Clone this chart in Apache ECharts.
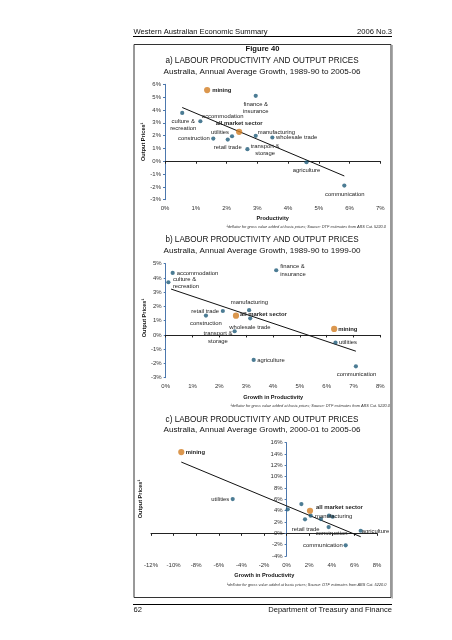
<!DOCTYPE html>
<html>
<head>
<meta charset="utf-8">
<script src="https://cdn.jsdelivr.net/npm/echarts@6/dist/echarts.min.js"></script>
<style>
html,body{margin:0;padding:0;background:#fff;}
#chart{width:452px;height:640px;}
</style>
</head>
<body>
<div id="chart"></div>
<script>
// ---------------- DATA ----------------
const sectors = ['agriculture','mining','manufacturing','utilities','construction','wholesale trade','retail trade','accommodation','transport &\nstorage','communication','finance &\ninsurance','culture &\nrecreation','all market sector'];

// a) 1989-90 to 2005-06
const prodA  = [4.60, 1.37, 2.95, 2.18, 1.57, 3.49, 2.04, 1.15, 2.68, 5.83, 2.95, 0.56, 2.41];
const priceA = [-0.08, 5.55, 1.98, 1.95, 1.77, 1.85, 1.69, 3.12, 0.94, -1.90, 5.10, 3.77, 2.29];
const trendA = [[0.56, 4.19], [5.83, -1.15]];

// b) 1989-90 to 1999-00
const prodB  = [3.28, 6.28, 3.11, 6.33, 1.50, 3.15, 2.13, 0.26, 2.57, 7.09, 4.12, 0.10, 2.62];
const priceB = [-1.75, 0.42, 1.74, -0.53, 1.36, 1.17, 1.68, 4.35, 0.26, -2.20, 4.54, 3.70, 1.35];
const trendB = [[0.20, 3.22], [7.09, -1.14]];

// c) 2000-01 to 2005-06
const prodC  = [6.56, -9.32, 2.13, -4.77, 3.72, 3.04, 1.63, 0.10, 3.75, 5.23, 1.31, 4.08, 2.07];
const priceC = [0.46, 14.35, 3.11, 6.05, 1.11, 2.52, 2.47, 4.24, 3.11, -2.12, 5.17, 2.93, 3.99];
const trendC = [[-9.32, 12.58], [6.56, -0.60]];

const highlighted = ['mining', 'all market sector'];

const titlesA = ['a) LABOUR PRODUCTIVITY AND OUTPUT PRICES', 'Australia, Annual Average Growth, 1989-90 to 2005-06'];
const titlesB = ['b) LABOUR PRODUCTIVITY AND OUTPUT PRICES', 'Australia, Annual Average Growth, 1989-90 to 1999-00'];
const titlesC = ['c) LABOUR PRODUCTIVITY AND OUTPUT PRICES', 'Australia, Annual Average Growth, 2000-01 to 2005-06'];
const xNames = ['Productivity', 'Growth in Productivity', 'Growth in Productivity'];
const yName = 'Output Prices\u00B9';
const footnote = '\u00B9deflator for gross value added at basic prices; Source: DTF estimates from ABS Cat. 5220.0';

// ---------------- STYLE (label placement) ----------------
// [dx, dy, align]
const labA = {
  'mining': [5, 0, 'left'],
  'culture &\nrecreation': [1, 12, 'center'],
  'accommodation': [1.5, -5, 'left'],
  'all market sector': [0, -8, 'center'],
  'utilities': [-3, -4, 'right'],
  'construction': [-3.5, 0.3, 'right'],
  'retail trade': [0, 8, 'center'],
  'finance &\ninsurance': [0, 12, 'center'],
  'manufacturing': [2, -3.7, 'left'],
  'wholesale trade': [3.7, 0, 'left'],
  'transport &\nstorage': [17.7, 0.5, 'center'],
  'agriculture': [0, 8, 'center'],
  'communication': [0.5, 8.4, 'center']
};
const labB = {
  'accommodation': [4, 0.3, 'left'],
  'culture &\nrecreation': [4.5, 0.5, 'left'],
  'retail trade': [-3.7, 0, 'right'],
  'construction': [0, 7.7, 'center'],
  'transport &\nstorage': [-16.7, 6, 'center'],
  'manufacturing': [0.3, -7.3, 'center'],
  'all market sector': [4, -1, 'left'],
  'wholesale trade': [-0.2, 8.7, 'center'],
  'finance &\ninsurance': [4, 0, 'left'],
  'mining': [4, 0.6, 'left'],
  'utilities': [3.4, 0, 'left'],
  'agriculture': [3.6, 0.6, 'left'],
  'communication': [0.6, 8.3, 'center']
};
const labC = {
  'mining': [4.4, 0, 'left'],
  'utilities': [-3.4, 0, 'right'],
  'all market sector': [6, -3, 'left'],
  'manufacturing': [4.3, 0.3, 'left'],
  'retail trade': [0.7, 9.7, 'center'],
  'construction': [3, 6.7, 'center'],
  'agriculture': [1, 0.3, 'left'],
  'communication': [-3, 0.4, 'right']
};

const FONT = '"Liberation Sans", Arial, sans-serif';
const BLUE = '#1f5b79';
const ORANGE = '#d27d22';
const AXISBLUE = '#4d78ad';

function points(xs, ys, orange) {
  const out = [];
  sectors.forEach((n, i) => {
    const isO = highlighted.indexOf(n) >= 0;
    if (isO !== orange) return;
    out.push({ name: n, value: [xs[i], ys[i]] });
  });
  return out;
}

function xAxes(gi, min, max, interval, labelMargin) {
  return [
    { gridIndex: gi, type: 'value', position: 'bottom', min, max, interval,
      axisLine: { show: false, onZero: false }, axisTick: { show: false }, splitLine: { show: false },
      axisLabel: { formatter: '{value}%', fontSize: 6, fontFamily: FONT, color: '#333', margin: labelMargin } },
    { gridIndex: gi, type: 'value', position: 'bottom', min, max, interval,
      axisLine: { show: true, onZero: true, lineStyle: { color: '#222', width: 1 } },
      axisTick: { show: true, length: 2.5, lineStyle: { color: '#222' } },
      axisLabel: { show: false }, splitLine: { show: false } }
  ];
}
function yAxis(gi, min, max, interval, offset) {
  return { gridIndex: gi, type: 'value', position: 'left', min, max, interval, offset: offset || 0,
    axisLine: { show: true, onZero: false, lineStyle: { color: AXISBLUE, width: 1 } },
    axisTick: { show: true, length: 2, lineStyle: { color: AXISBLUE } },
    splitLine: { show: false },
    axisLabel: { formatter: '{value}%', fontSize: 6, fontFamily: FONT, color: '#333', margin: 4 } };
}

function seriesFor(gi, xs, ys, labs, trend) {
  const xi = gi * 2, yi = gi;
  const labelNames = [];
  const labelData = [];
  sectors.forEach((n, i) => {
    if (labs[n]) { labelNames.push(n); labelData.push([xs[i], ys[i]]); }
  });
  return [
    { type: 'line', xAxisIndex: xi, yAxisIndex: yi, data: trend, symbol: 'none', silent: true,
      lineStyle: { color: '#111', width: 1 }, z: 2 },
    { type: 'scatter', xAxisIndex: xi, yAxisIndex: yi, data: points(xs, ys, false), symbolSize: 4.2,
      itemStyle: { color: BLUE }, z: 3 },
    { type: 'scatter', xAxisIndex: xi, yAxisIndex: yi, data: points(xs, ys, true), symbolSize: 6.2,
      itemStyle: { color: ORANGE }, z: 4 },
    { type: 'custom', coordinateSystem: 'cartesian2d', xAxisIndex: xi, yAxisIndex: yi, data: labelData, z: 5,
      silent: true,
      renderItem: function (params, api) {
        const n = labelNames[params.dataIndex];
        const L = labs[n];
        const p = api.coord([api.value(0), api.value(1)]);
        const bold = highlighted.indexOf(n) >= 0;
        return { type: 'text', x: p[0] + L[0], y: p[1] + L[1],
          style: { text: n, fontSize: 5.9, fontFamily: FONT, fontWeight: bold ? 'bold' : 'normal',
            fill: '#222', lineHeight: 7.3,
            align: L[2], verticalAlign: 'middle', textAlign: L[2], textVerticalAlign: 'middle' } };
      } }
  ];
}

function txt(x, y, text, size, opts) {
  opts = opts || {};
  return { type: 'text', x, y, rotation: opts.rot || 0, z: 10,
    style: { text, fontSize: size, fontFamily: FONT, fontWeight: opts.bold ? 'bold' : 'normal',
      fontStyle: opts.italic ? 'italic' : 'normal', fill: opts.color || '#111',
      align: opts.align || 'center', verticalAlign: 'middle',
      textAlign: opts.align || 'center', textVerticalAlign: 'middle' } };
}
function line(x1, y1, x2, y2, color, w) {
  return { type: 'line', z: 10, shape: { x1, y1, x2, y2 }, style: { stroke: color, lineWidth: w } };
}

const chart = echarts.init(document.getElementById('chart'), null, { renderer: 'canvas' });

const option = {
  animation: false,
  backgroundColor: '#fff',
  grid: [
    { left: 165, top: 84.3, width: 215.3, height: 115.4, containLabel: false, outerBoundsMode: 'none' },
    { left: 165.7, top: 263.7, width: 214.6, height: 114, containLabel: false, outerBoundsMode: 'none' },
    { left: 151, top: 442.7, width: 226, height: 113.3, containLabel: false, outerBoundsMode: 'none' }
  ],
  xAxis: [].concat(xAxes(0, 0, 7, 1, 5.5), xAxes(1, 0, 8, 1, 5.2), xAxes(2, -12, 8, 2, 6.5)),
  yAxis: [yAxis(0, -3, 6, 1), yAxis(1, -3, 5, 1), yAxis(2, -4, 16, 2, -135.6)],
  series: [].concat(
    seriesFor(0, prodA, priceA, labA, trendA),
    seriesFor(1, prodB, priceB, labB, trendB),
    seriesFor(2, prodC, priceC, labC, trendC)
  ),
  graphic: [
    // page header / footer
    txt(133.5, 32, 'Western Australian Economic Summary', 7.6, { align: 'left' }),
    txt(392, 32, '2006 No.3', 7.6, { align: 'right' }),
    line(133, 36.5, 392, 36.5, '#000', 1),
    line(133, 604.5, 392, 604.5, '#000', 1),
    txt(133.5, 610, '62', 7.6, { align: 'left' }),
    txt(392, 610, 'Department of Treasury and Finance', 7.6, { align: 'right' }),
    // box
    { type: 'rect', z: 9, shape: { x: 134, y: 44.5, width: 257, height: 553 },
      style: { fill: 'none', stroke: '#333', lineWidth: 1 } },
    line(392.2, 45, 392.2, 598.5, '#999', 1.2),
    txt(262.5, 49, 'Figure 40', 7.6, { bold: true }),
    // chart a
    txt(262, 61, titlesA[0], 8.15),
    txt(262, 71.7, titlesA[1], 8.1),
    txt(143, 141.8, yName, 5.6, { bold: true, rot: Math.PI / 2 }),
    txt(272.7, 218.5, xNames[0], 5.6, { bold: true }),
    txt(386, 226.5, footnote, 3.9, { italic: true, align: 'right', color: '#333' }),
    // chart b
    txt(262, 240, titlesB[0], 8.15),
    txt(262, 250.5, titlesB[1], 8.1),
    txt(144, 318, yName, 5.6, { bold: true, rot: Math.PI / 2 }),
    txt(273.2, 397, xNames[1], 5.6, { bold: true }),
    txt(390, 405.5, footnote, 3.9, { italic: true, align: 'right', color: '#333' }),
    // chart c
    txt(262, 419.3, titlesC[0], 8.15),
    txt(262, 429.8, titlesC[1], 8.1),
    txt(140, 499, yName, 5.6, { bold: true, rot: Math.PI / 2 }),
    txt(264.3, 575.8, xNames[2], 5.6, { bold: true }),
    txt(386.5, 585, footnote, 3.9, { italic: true, align: 'right', color: '#333' })
  ]
};
chart.setOption(option);
</script>
</body>
</html>
